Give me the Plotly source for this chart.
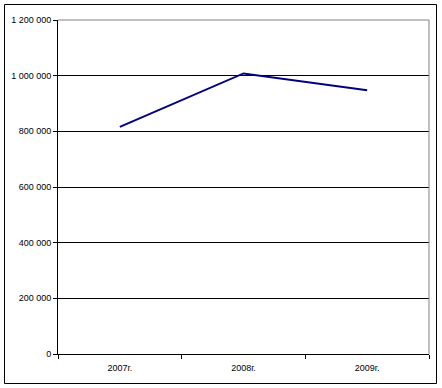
import plotly.graph_objects as go

categories = ["2007г.", "2008г.", "2009г."]
values = [816000, 1008000, 948000]
y_ticks = [0, 200000, 400000, 600000, 800000, 1000000, 1200000]

L, R, T, B = 58, 13, 20, 34
W, H = 442, 388
pw, ph = W - L - R, H - T - B

def px(x):
    return (x - L) / pw

def py(y):
    return (H - B - y) / ph

fig = go.Figure()
fig.add_trace(go.Scatter(x=categories, y=values, mode="lines",
                         line=dict(color="#000080", width=2)))

fig.update_layout(
    width=W, height=H,
    margin=dict(l=L, r=R, t=T, b=B),
    paper_bgcolor="white", plot_bgcolor="white",
    showlegend=False,
    separators=", ",
    font=dict(family="Liberation Sans, Arial, sans-serif", size=9, color="black"),
    xaxis=dict(type="category", tickson="boundaries", ticks="outside", ticklen=4,
               tickcolor="black", showline=True, linecolor="black", linewidth=1,
               showgrid=False, zeroline=False, range=[-0.5, 2.5],
               ticklabelstandoff=5),
    yaxis=dict(range=[0, 1200000], tickvals=y_ticks, tickformat=",d",
               ticks="outside", ticklen=4, tickcolor="black",
               showline=True, linecolor="black", linewidth=1,
               showgrid=True, gridcolor="black", gridwidth=1, zeroline=False),
    shapes=[
        dict(type="line", xref="paper", yref="paper", x0=0, x1=1, y0=1, y1=1,
             line=dict(color="#808080", width=1)),
        dict(type="line", xref="paper", yref="paper", x0=1, x1=1, y0=0, y1=1,
             line=dict(color="#808080", width=1)),
        dict(type="rect", xref="paper", yref="paper",
             x0=px(4.5), x1=px(436.5), y0=py(383.5), y1=py(4.5),
             line=dict(color="black", width=1)),
    ],
)

fig.write_html("out.html")
